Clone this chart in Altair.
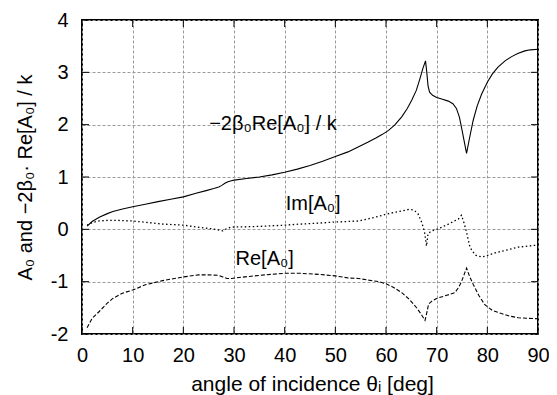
import altair as alt
import pandas as pd

# --- data ---
theta_s = [1, 2, 3.4, 5, 6.1, 8, 10, 12.5, 15, 17.5, 20, 22.5, 24.5, 26, 27, 27.6, 28.2, 28.8, 29.5, 30,
           32.5, 35, 37.5, 40, 42.5, 45, 47.5, 50, 52.5, 54.6, 56.5, 58.0, 59.3, 60.5, 61.7, 63.1, 64.2,
           65.1, 66, 66.7, 67.3, 67.8, 68.05, 68.3, 68.6, 69.2, 70, 71, 72.3, 73.2, 73.9, 74.5, 74.9,
           75.4, 75.9, 76.5, 77.2, 78, 78.9, 80, 81, 82.1, 83.5, 84.8, 86, 87.4, 88.5, 90]
val_s = [0.06, 0.15, 0.23, 0.30, 0.34, 0.39, 0.43, 0.48, 0.53, 0.575, 0.62, 0.69, 0.74, 0.78, 0.81, 0.84,
         0.88, 0.91, 0.93, 0.94, 0.97, 1.0, 1.04, 1.09, 1.15, 1.22, 1.30, 1.39, 1.48, 1.58, 1.67, 1.745,
         1.815, 1.89, 1.99, 2.15, 2.31, 2.47, 2.66, 2.88, 3.08, 3.22, 3.0, 2.74, 2.62, 2.56, 2.52, 2.49,
         2.45, 2.40, 2.31, 2.14, 1.95, 1.70, 1.45, 1.75, 2.08, 2.36, 2.59, 2.81, 2.97, 3.10, 3.22, 3.30,
         3.36, 3.41, 3.43, 3.44]

theta_im = [1, 2, 3.4, 5, 7, 10, 13, 16, 20, 23, 25.7, 27.3, 27.8, 28.5, 29.3, 30, 33, 36, 40, 43, 47, 50,
            52.5, 54.6, 56.5, 58.6, 60, 62, 64.5, 65.5, 66.3, 67.1, 67.6, 68.0, 68.3, 69, 70, 71, 72.3,
            73.5, 74.3, 74.9, 75.4, 75.8, 76.6, 77.6, 78.9, 80, 81.5, 82.8, 84.5, 86.1, 88, 90]
val_im = [0.08, 0.13, 0.16, 0.17, 0.17, 0.16, 0.13, 0.10, 0.08, 0.04, 0.01, -0.02, -0.03, 0.01, 0.04,
          0.045, 0.05, 0.06, 0.08, 0.10, 0.12, 0.14, 0.15, 0.16, 0.20, 0.25, 0.29, 0.33, 0.38, 0.37,
          0.30, 0.12, -0.05, -0.32, -0.08, -0.03, 0.0, 0.04, 0.10, 0.16, 0.20, 0.27, 0.12, -0.02, -0.35,
          -0.49, -0.53, -0.50, -0.45, -0.42, -0.38, -0.34, -0.32, -0.30]

theta_re = [1, 2, 3.4, 5, 6.1, 8, 10, 12.5, 15.9, 20, 23, 25, 27, 27.8, 28.6, 29.5, 31, 33, 36, 40, 43,
            46.7, 50, 52.6, 54.6, 56.5, 58.6, 60, 61.5, 63.1, 64.5, 65.8, 66.8, 67.7, 68.0, 68.4, 69.2,
            70, 72, 73.6, 74.4, 74.9, 75.4, 75.9, 76.5, 77.2, 78.3, 79.5, 81, 82.8, 84.5, 86.1, 88, 90]
val_re = [-1.88, -1.70, -1.57, -1.41, -1.32, -1.22, -1.16, -1.06, -0.98, -0.91, -0.87, -0.87, -0.88,
          -0.91, -0.94, -0.94, -0.92, -0.90, -0.87, -0.84, -0.84, -0.86, -0.89, -0.93, -0.94, -0.97,
          -1.0, -1.04, -1.11, -1.21, -1.33, -1.47, -1.60, -1.74, -1.62, -1.43, -1.36, -1.32, -1.26,
          -1.21, -1.10, -1.0, -0.87, -0.74, -0.90, -1.05, -1.26, -1.44, -1.55, -1.61, -1.66, -1.69,
          -1.70, -1.71]

x_ticks = [0, 10, 20, 30, 40, 50, 60, 70, 80, 90]
y_ticks = [-2, -1, 0, 1, 2, 3, 4]

label_text = ["−2β₀Re[A₀] / k", "Im[A₀]", "Re[A₀]"]
label_x = [25.1, 40.2, 30.3]
label_y = [2.02, 0.49, -0.56]

FONT = "Liberation Sans"
FS = 20
XD = [0, 90]
YD = [-2, 4]
W, H = 456, 314

xs = alt.Scale(domain=XD, nice=False, zero=False)
ys = alt.Scale(domain=YD, nice=False, zero=False)

x_axis = alt.Axis(values=x_ticks, title="angle of incidence θᵢ [deg]", grid=True, ticks=False,
                  domain=False, labelPadding=11, labelFontSize=FS, labelFont=FONT, labelColor="black",
                  labelFlush=False,
                  titleFont=FONT, titleFontSize=21, titleFontWeight="normal", titleColor="black",
                  titleX=230, titleY=50, titleBaseline="middle", titleAlign="center",
                  labelExpr="datum.value + ''")
y_axis = alt.Axis(values=y_ticks, title="A₀ and −2β₀· Re[A₀] / k", grid=True, ticks=False,
                  domain=False, labelPadding=14, labelFontSize=FS, labelFont=FONT, labelColor="black",
                  labelFlush=False,
                  titleFont=FONT, titleFontSize=FS, titleFontWeight="normal", titleColor="black",
                  titleX=-57, titleY=157, titleBaseline="middle", titleAlign="center", titleAngle=-90,
                  labelExpr="datum.value + ''")

df_s = pd.DataFrame({"theta": theta_s, "v": val_s})
df_im = pd.DataFrame({"theta": theta_im, "v": val_im})
df_re = pd.DataFrame({"theta": theta_re, "v": val_re})

base_s = alt.Chart(df_s).mark_line(color="black", strokeWidth=1.1).encode(
    x=alt.X("theta:Q", scale=xs, axis=x_axis),
    y=alt.Y("v:Q", scale=ys, axis=y_axis),
)
line_im = alt.Chart(df_im).mark_line(color="black", strokeWidth=1.3, strokeDash=[1.5, 2.5]).encode(
    x=alt.X("theta:Q", scale=xs), y=alt.Y("v:Q", scale=ys))
line_re = alt.Chart(df_re).mark_line(color="black", strokeWidth=1.1, strokeDash=[4, 2]).encode(
    x=alt.X("theta:Q", scale=xs), y=alt.Y("v:Q", scale=ys))

# inward ticks on all four sides (gnuplot style)
xt = pd.DataFrame({"t": x_ticks})
yt = pd.DataFrame({"t": y_ticks})
tick_b = alt.Chart(xt).mark_rule(color="black", strokeWidth=1).encode(
    x=alt.X("t:Q", scale=xs), y=alt.value(H), y2=alt.value(H - 7))
tick_t = alt.Chart(xt).mark_rule(color="black", strokeWidth=1).encode(
    x=alt.X("t:Q", scale=xs), y=alt.value(0), y2=alt.value(7))
tick_l = alt.Chart(yt).mark_rule(color="black", strokeWidth=1).encode(
    y=alt.Y("t:Q", scale=ys), x=alt.value(0), x2=alt.value(7))
tick_r = alt.Chart(yt).mark_rule(color="black", strokeWidth=1).encode(
    y=alt.Y("t:Q", scale=ys), x=alt.value(W), x2=alt.value(W - 7))

labels = alt.Chart(pd.DataFrame({"text": label_text, "x": label_x, "y": label_y})).mark_text(
    align="left", baseline="middle", font=FONT, fontSize=FS, color="black").encode(
    x=alt.X("x:Q", scale=xs), y=alt.Y("y:Q", scale=ys), text="text:N")

chart = alt.layer(base_s, line_im, line_re, tick_b, tick_t, tick_l, tick_r, labels).properties(
    width=W, height=H,
    autosize=alt.AutoSizeParams(type="none"),
    padding={"left": 74, "top": 12, "right": 11, "bottom": 61},
).configure_view(stroke="black", strokeWidth=2).configure_axis(
    gridColor="#9a9a9a", gridDash=[3, 2], gridWidth=1, gridOpacity=1
)

chart.save("out.html", embed_options={"renderer": "svg", "actions": False})
